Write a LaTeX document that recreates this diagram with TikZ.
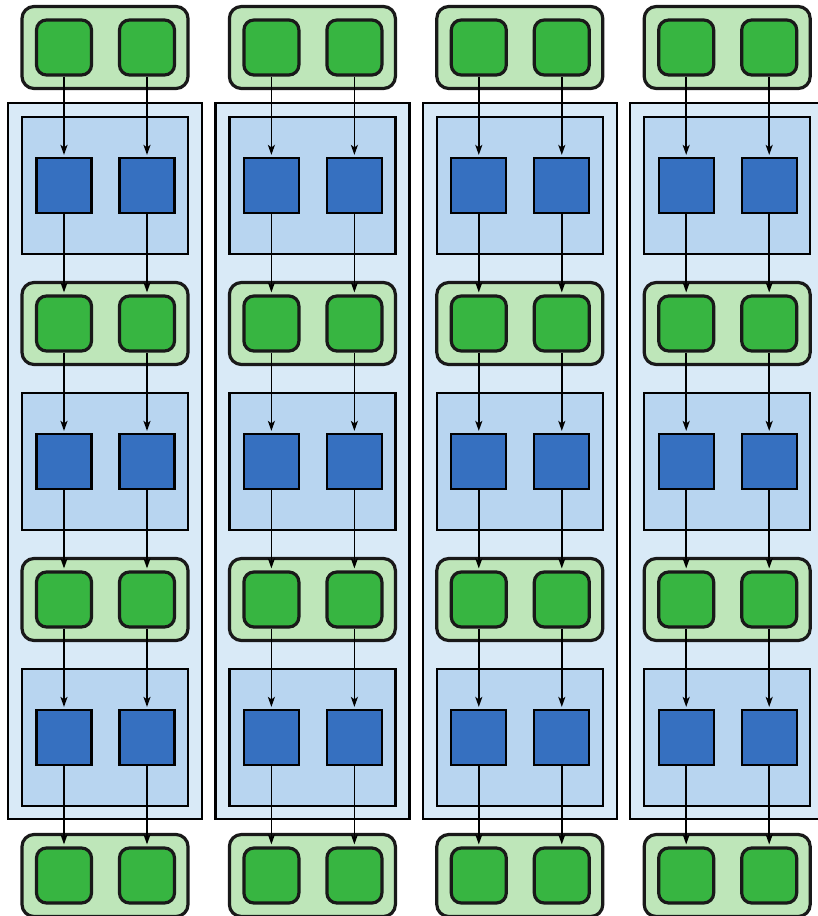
\documentclass[tikz,border=0pt]{standalone}
\usetikzlibrary{arrows.meta}
\definecolor{grpgreen}{HTML}{BEE6B9}
\definecolor{sqgreen}{HTML}{37B541}
\definecolor{sqblue}{HTML}{3670C0}
\definecolor{boxblue}{HTML}{B8D5F0}
\definecolor{colblue}{HTML}{D9EAF7}
\begin{document}
\begin{tikzpicture}[x=1pt, y=-1pt,
  grp/.style={draw=black!90, line width=3.2pt, fill=grpgreen, rounded corners=12pt,
    minimum width=166pt, minimum height=82pt, inner sep=0pt},
  gsq/.style={draw=black!90, line width=3.2pt, fill=sqgreen, rounded corners=10pt,
    minimum size=55pt, inner sep=0pt},
  bbox/.style={draw=black, line width=2.2pt, fill=boxblue,
    minimum width=166pt, minimum height=137pt, inner sep=0pt},
  bsq/.style={draw=black, line width=2.2pt, fill=sqblue, minimum size=55pt, inner sep=0pt},
  colbg/.style={draw=black, line width=2.2pt, fill=colblue},
  flow/.style={-{Stealth[length=10pt, width=7pt, inset=2.5pt]}, line width=1.6pt, shorten >=2pt}]
  \useasboundingbox (0,0) rectangle (817,916);
  \foreach \c in {0,...,3} {
    \pgfmathsetmacro\xo{207.4*\c}
    % column background
    \draw[colbg] (\xo+8,103) rectangle (\xo+202,819);
    % green groups
    \foreach \r in {0,...,3} {
      \pgfmathsetmacro\yg{47.5+276*\r}
      \node[grp] (grp\c-\r) at (\xo+105,\yg) {};
      \node[gsq] (g\c-\r-a) at (\xo+64,\yg) {};
      \node[gsq] (g\c-\r-b) at (\xo+147,\yg) {};
    }
    % blue blocks
    \foreach \r in {0,...,2} {
      \pgfmathsetmacro\yb{185.5+276*\r}
      \node[bbox] (blk\c-\r) at (\xo+105,\yb) {};
      \node[bsq] (b\c-\r-a) at (\xo+64,\yb) {};
      \node[bsq] (b\c-\r-b) at (\xo+147,\yb) {};
    }
    % connections
    \foreach \r in {0,...,2} {
      \pgfmathtruncatemacro\rn{\r+1}
      \foreach \s in {a,b} {
        \draw[flow] (g\c-\r-\s) -- (b\c-\r-\s);
        \draw[flow] (b\c-\r-\s) -- (g\c-\rn-\s);
      }
    }
  }
\end{tikzpicture}
\end{document}
